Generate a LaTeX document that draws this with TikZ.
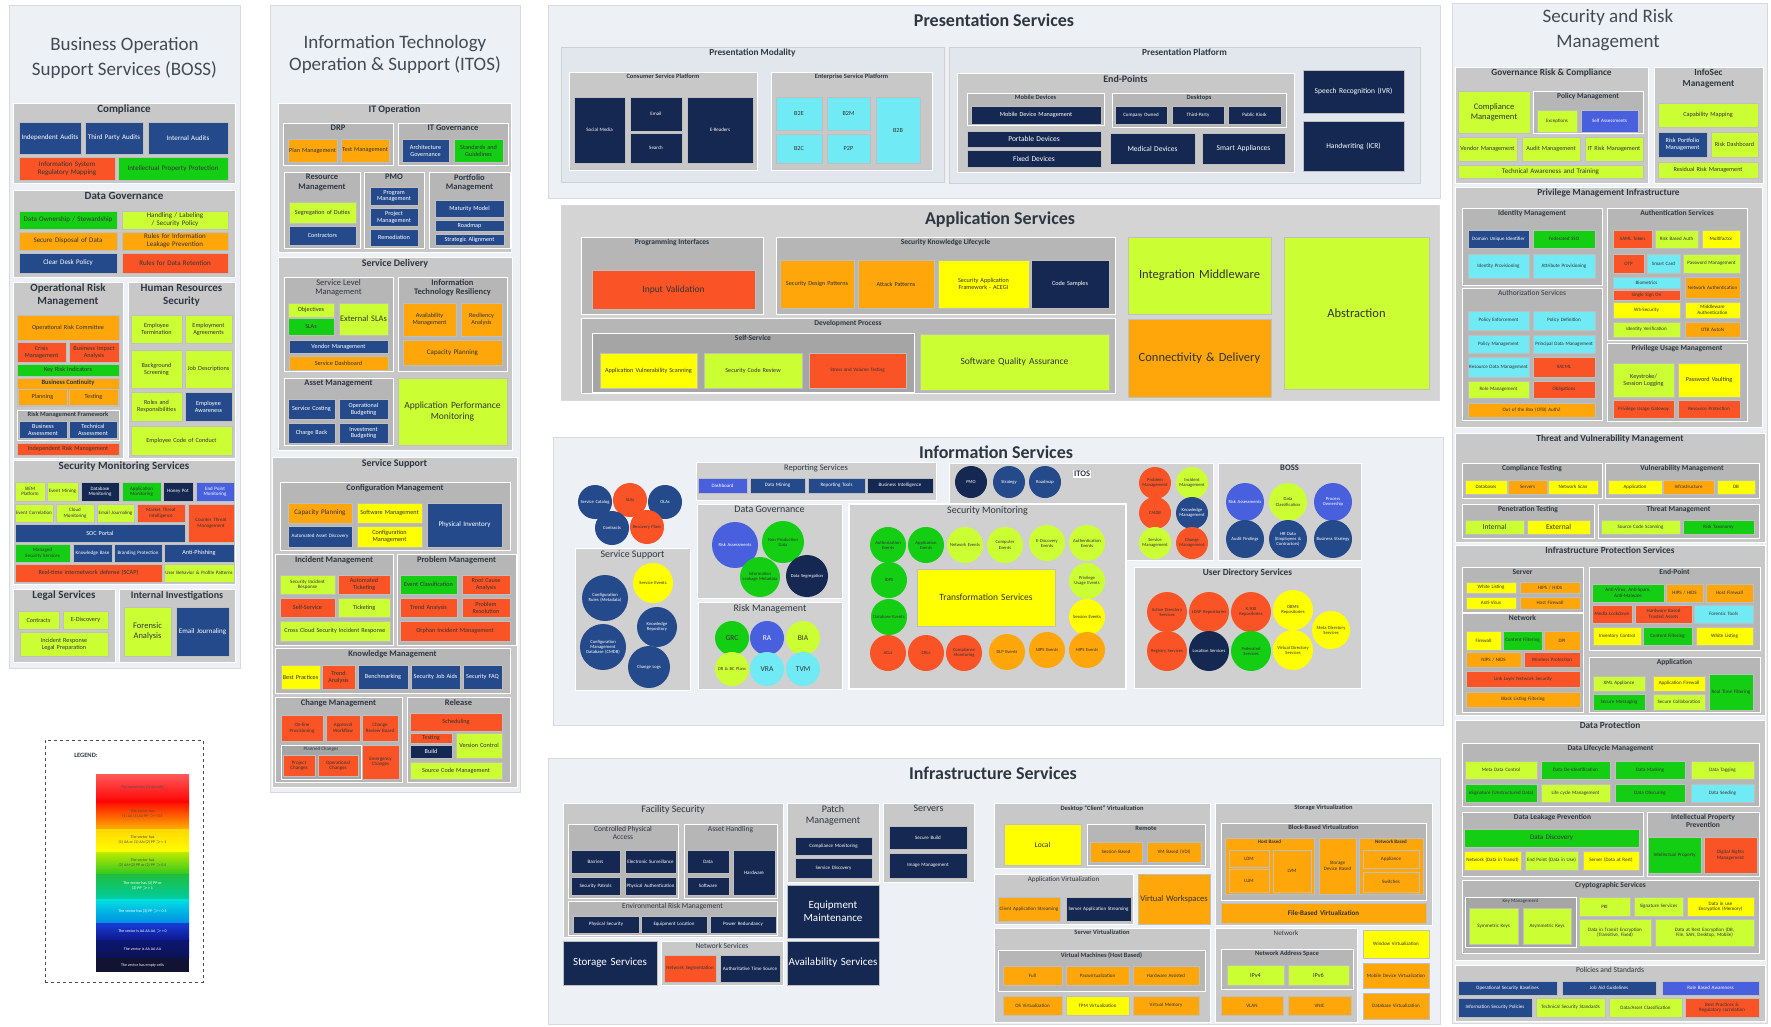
\documentclass[tikz,border=0pt]{standalone}
\usepackage{fontspec}
\setmainfont{Carlito}
\definecolor{cnavy}{RGB}{20,40,82}
\definecolor{cblue}{RGB}{36,74,140}
\definecolor{cbright}{RGB}{72,96,222}
\definecolor{cred}{RGB}{250,84,38}
\definecolor{corange}{RGB}{255,166,10}
\definecolor{cyellow}{RGB}{255,255,0}
\definecolor{clime}{RGB}{204,255,51}
\definecolor{cgreen}{RGB}{20,206,20}
\definecolor{ccyan}{RGB}{112,234,245}
\definecolor{pg}{RGB}{200,200,200}
\definecolor{pgb}{RGB}{182,182,182}
\definecolor{pgc}{RGB}{165,165,165}
\definecolor{pgi}{RGB}{208,208,208}
\definecolor{pgl}{RGB}{226,231,238}
\definecolor{outc}{RGB}{237,240,244}
\definecolor{appc}{RGB}{212,212,212}
\definecolor{ttlc}{RGB}{45,55,66}
\definecolor{lgdark}{RGB}{18,18,50}
\newcounter{bxn}
\newcommand\bx[6]{\stepcounter{bxn}%
 \pgfmathsetmacro\bxw{#3-#1}\pgfmathsetmacro\bxh{#4-#2}\pgfmathsetmacro\bxtw{max(#3-#1-2,1)}%
 \node[box,#5,minimum width=\bxw pt,minimum height=\bxh pt,text width=\bxtw pt] (b\thebxn) at ({(#1+#3)/2},{(#2+#4)/2}) {#6};}
\newcommand\pn[7]{\stepcounter{bxn}%
 \pgfmathsetmacro\bxw{#3-#1}\pgfmathsetmacro\bxh{#4-#2}%
 \node[pnl,#5,minimum width=\bxw pt,minimum height=\bxh pt] (p\thebxn) at ({(#1+#3)/2},{(#2+#4)/2}) {};
 \node[ttl,#6,anchor=north] (t\thebxn) at ({(#1+#3)/2},{#2+1}) {#7};}
\newcommand\cc[5]{\stepcounter{bxn}%
 \pgfmathsetmacro\bxw{2*#3}\pgfmathsetmacro\bxtw{1.75*#3}%
 \node[circ,#4,minimum size=\bxw pt,text width=\bxtw pt] (c\thebxn) at (#1,#2) {#5};}
\begin{document}
\hyphenpenalty=10000 \exhyphenpenalty=10000
\begin{tikzpicture}[x=1pt,y=-1pt,
 box/.style={draw=black!25,line width=0.3pt,inner sep=0.5pt,outer sep=0pt,align=center,font=\fontsize{6.2}{6.8}\selectfont,text=black!80},
 circ/.style={circle,inner sep=0pt,outer sep=0pt,align=center,font=\fontsize{4.6}{5.1}\selectfont,text=black!80},
 pnl/.style={fill=pg,draw=white,line width=0.7pt,inner sep=0pt,outer sep=0pt},
 pnl2/.style={fill=pgb},
 pnl3/.style={fill=pgc},
 pnlI/.style={fill=pgi},
 pnlL/.style={fill=pgl,draw=black!18},
 outerp/.style={fill=outc,draw=black!15,line width=0.5pt},
 appouter/.style={fill=appc,draw=black!15,line width=0.5pt},
 legbox/.style={fill=white,draw=black!70,dashed,line width=0.9pt},
 ttl/.style={inner sep=1pt,align=center,text=ttlc,font=\fontsize{9}{10}\selectfont\bfseries},
 t11/.style={font=\fontsize{11}{13}\selectfont\bfseries},
 t10/.style={font=\fontsize{10}{11.5}\selectfont\bfseries},
 t9/.style={font=\fontsize{9.3}{10.5}\selectfont\bfseries},
 t9n/.style={font=\fontsize{10}{11.5}\selectfont},
 t8/.style={font=\fontsize{8.5}{9.6}\selectfont\bfseries},
 t8n/.style={font=\fontsize{8.5}{9.5}\selectfont},
 t7/.style={font=\fontsize{7.5}{8.5}\selectfont\bfseries},
 t7n/.style={font=\fontsize{7.5}{8.5}\selectfont},
 t6/.style={font=\fontsize{6.5}{7.3}\selectfont\bfseries},
 t6n/.style={font=\fontsize{7}{8}\selectfont},
 t5/.style={font=\fontsize{5}{5.6}\selectfont},
 t4/.style={font=\fontsize{5}{5.6}\selectfont\bfseries},
 f4/.style={font=\fontsize{5}{5.6}\selectfont},
 f5/.style={font=\fontsize{6.2}{6.8}\selectfont},
 f6/.style={font=\fontsize{7}{7.8}\selectfont},
 f6b/.style={font=\fontsize{7}{7.8}\selectfont\bfseries},
 f7/.style={font=\fontsize{7.5}{8.5}\selectfont},
 f8/.style={font=\fontsize{8.5}{9.8}\selectfont},
 f9/.style={font=\fontsize{9.5}{11}\selectfont},
 f11/.style={font=\fontsize{11}{13}\selectfont},
 f12/.style={font=\fontsize{12.5}{15}\selectfont},
 bigt/.style={font=\fontsize{19}{24.5}\selectfont,text=ttlc!90,align=center,inner sep=0pt},
 bigb/.style={font=\fontsize{18}{21}\selectfont\bfseries,text=ttlc,inner sep=0pt},
 cnv/.style={fill=cnavy,text=white},
 cbl/.style={fill=cblue,text=white},
 cbb/.style={fill=cbright,text=white},
 crd/.style={fill=cred},
 cor/.style={fill=corange},
 cye/.style={fill=cyellow},
 clm/.style={fill=clime},
 cgn/.style={fill=cgreen},
 ccy/.style={fill=ccyan},
 legt/.style={font=\fontsize{4}{4.6}\selectfont,align=center,inner sep=0pt}
]
\useasboundingbox (0,0) rectangle (1771,1026);
\fill[white] (0,0) rectangle (1771,1026);

%================ BOSS =================
\bx{9}{5}{240}{668}{outerp}{}
\node[bigt] (tboss) at (124.5,58) {Business Operation\\Support Services (BOSS)};
\pn{13}{103}{235}{183}{}{t11}{Compliance}
\bx{19}{122}{81}{154}{cbl,f6}{Independent Audits}
\bx{85}{122}{143}{154}{cbl,f6}{Third Party Audits}
\bx{148}{122}{228}{154}{cbl,f6}{Internal Audits}
\bx{19}{157}{115}{180}{crd,f6}{Information System Regulatory Mapping}
\bx{118}{157}{228}{180}{cgn,f6}{Intellectual Property Protection}
\pn{13}{190}{235}{277}{}{t11}{Data Governance}
\bx{19}{211}{117}{229}{cgn,f6}{Data Ownership / Stewardship}
\bx{122}{211}{228}{229}{clm,f6}{Handling / Labeling / Security Policy}
\bx{19}{232}{117}{250}{cor,f6}{Secure Disposal of Data}
\bx{122}{232}{228}{250}{cor,f6}{Rules for Information Leakage Prevention}
\bx{19}{253}{117}{273}{cbl,f6}{Clear Desk Policy}
\bx{122}{253}{228}{273}{crd,f6}{Rules for Data Retention}
\pn{13}{282}{123}{458}{}{t11}{Operational Risk\\Management}
\bx{17}{315}{119}{340}{cor}{Operational Risk Committee}
\bx{17}{342}{66}{362}{crd}{Crisis Management}
\bx{69}{342}{119}{362}{crd}{Business Impact Analysis}
\bx{17}{364}{119}{376}{cgn}{Key Risk Indicators}
\pn{17}{378}{119}{406}{cor,draw=black!25,line width=0.3pt}{t6}{Business Continuity}
\bx{18}{389}{67}{405}{cor}{Planning}
\bx{69}{389}{118}{405}{cor}{Testing}
\pn{17}{410}{119}{440}{pnl2}{t6}{Risk Management Framework}
\bx{19}{421}{67}{438}{cbl}{Business Assessment}
\bx{69}{421}{117}{438}{cbl}{Technical Assessment}
\bx{17}{443}{119}{455}{crd}{Independent Risk Management}
\pn{128}{282}{235}{458}{}{t11}{Human Resources\\Security}
\bx{131}{315}{182}{343}{clm}{Employee Termination}
\bx{185}{315}{232}{343}{clm}{Employment Agreements}
\bx{131}{350}{182}{388}{clm}{Background Screening}
\bx{185}{350}{232}{388}{clm}{Job Descriptions}
\bx{131}{392}{182}{421}{clm}{Roles and Responsibilities}
\bx{185}{392}{232}{421}{cbl}{Employee Awareness}
\bx{131}{426}{232}{455}{clm}{Employee Code of Conduct}
\pn{13}{460}{235}{584}{}{t11}{Security Monitoring Services}
\bx{15}{482}{45}{501}{clm,f4}{SIEM Platform}
\bx{47}{482}{78}{501}{clm,f4}{Event Mining}
\bx{81}{482}{119}{501}{cnv,f4}{Database Monitoring}
\bx{122}{482}{161}{501}{cgn,f4}{Application Monitoring}
\bx{163}{482}{193}{501}{cnv,f4}{Honey Pot}
\bx{196}{482}{234}{501}{cbb,f4}{End Point Monitoring}
\bx{15}{504}{53}{522}{clm,f4}{Event Correlation}
\bx{56}{504}{94}{522}{clm,f4}{Cloud Monitoring}
\bx{97}{504}{134}{522}{clm,f4}{Email Journaling}
\bx{137}{504}{185}{522}{crd,f4}{Market Threat Intelligence}
\bx{188}{504}{234}{542}{crd,f4}{Counter Threat Management}
\bx{15}{524}{185}{542}{cbl}{SOC Portal}
\bx{15}{544}{70}{562}{cgn,f4}{Managed Security Services}
\bx{73}{544}{112}{562}{cbl,f4}{Knowledge Base}
\bx{114}{544}{162}{562}{cbl,f4}{Branding Protection}
\bx{164}{544}{234}{562}{cbl}{Anti-Phishing}
\bx{15}{564}{162}{582}{crd}{Real-time internetwork defense (SCAP)}
\bx{164}{564}{234}{582}{clm,f4}{User Behavior \& Profile Patterns}
\pn{13}{589}{115}{662}{}{t11}{Legal Services}
\bx{18}{611}{59}{629}{clm}{Contracts}
\bx{63}{611}{108}{629}{clm}{E-Discovery}
\bx{20}{632}{108}{656}{clm}{Incident Response Legal Preparation}
\pn{119}{589}{235}{662}{}{t10}{Internal Investigations}
\bx{124}{607}{171}{656}{clm,f8}{Forensic Analysis}
\bx{176}{607}{229}{656}{cbl,f6}{Email Journaling}

% legend
\bx{45}{740}{203}{982}{legbox}{}
\node[font=\fontsize{6.5}{7}\selectfont\bfseries,text=ttlc] (legtitle) at (86,755) {LEGEND:};
\shade[top color={rgb,255:red,255;green,90;blue,90},bottom color={rgb,255:red,255;green,0;blue,0}] (96,774) rectangle (189,803);
\shade[top color={rgb,255:red,255;green,20;blue,0},bottom color={rgb,255:red,255;green,175;blue,0}] (96,803) rectangle (189,829);
\shade[top color={rgb,255:red,255;green,215;blue,0},bottom color={rgb,255:red,255;green,255;blue,0}] (96,829) rectangle (189,852);
\shade[top color={rgb,255:red,190;green,235;blue,0},bottom color={rgb,255:red,50;green,200;blue,30}] (96,852) rectangle (189,874);
\shade[top color={rgb,255:red,30;green,190;blue,60},bottom color={rgb,255:red,0;green,205;blue,160}] (96,874) rectangle (189,899);
\shade[top color={rgb,255:red,0;green,225;blue,225},bottom color={rgb,255:red,0;green,140;blue,230}] (96,899) rectangle (189,923);
\shade[top color={rgb,255:red,25;green,60;blue,215},bottom color={rgb,255:red,12;green,25;blue,140}] (96,923) rectangle (189,940);
\shade[top color={rgb,255:red,12;green,22;blue,115},bottom color={rgb,255:red,12;green,18;blue,85}] (96,940) rectangle (189,958);
\fill[fill=lgdark] (96,958) rectangle (189,972);
\node[legt,text=black!70] (lg1) at (142.5,787) {The vector has (1) AA cells};
\node[legt,text=black!70] (lg2) at (142.5,814) {The vector has\\(1) AA (1) AA PP $>$= 0.5};
\node[legt,text=black!70] (lg3) at (142.5,840) {The vector has\\(1) AA or (1) AA/(2) PP $>$= 1};
\node[legt,text=black!70] (lg4) at (142.5,863) {The vector has\\(2) AA+(2) PP or (2) PP $>$0.5};
\node[legt,text=white] (lg5) at (142.5,886) {The vector has (2) PP or\\(2) PP $>$= 1};
\node[legt,text=white] (lg6) at (142.5,911) {The vector has (3) PP $>$= 0.5};
\node[legt,text=white] (lg7) at (142.5,931) {The vector is AA AA AA $>$= 0};
\node[legt,text=white] (lg8) at (142.5,949) {The vector is AA AA AA};
\node[legt,text=white] (lg9) at (142.5,965) {The vector has empty cells};

%================ ITOS =================
\bx{270}{5}{520}{792}{outerp}{}
\node[bigt,font=\fontsize{19}{22}\selectfont] (titos) at (395,54) {Information Technology\\Operation \& Support (ITOS)};
\pn{278}{103}{511}{252}{}{t10}{IT Operation}
\pn{283}{123}{393}{165}{pnl2}{t8}{DRP}
\bx{288}{139}{337}{162}{cor}{Plan Management}
\bx{341}{139}{389}{162}{cor}{Test Management}
\pn{398}{123}{508}{165}{pnl2}{t8}{IT Governance}
\bx{402}{139}{449}{162}{cbl}{Architecture Governance}
\bx{454}{139}{503}{162}{cgn}{Standards and Guidelines}
\pn{284}{172}{360}{248}{pnl2}{t8}{Resource\\Management}
\bx{289}{202}{356}{223}{clm}{Segregation of Duties}
\bx{289}{226}{356}{245}{cbl}{Contractors}
\pn{364}{172}{424}{248}{pnl2}{t8}{PMO}
\bx{370}{187}{418}{205}{cbl}{Program Management}
\bx{370}{208}{418}{226}{cbl}{Project Management}
\bx{370}{229}{418}{246}{cbl}{Remediation}
\pn{429}{172}{510}{248}{pnl2}{t8}{Portfolio\\Management}
\bx{435}{200}{504}{217}{cbl}{Maturity Model}
\bx{435}{220}{504}{231}{cbl}{Roadmap}
\bx{435}{234}{504}{245}{cbl}{Strategic Alignment}
\pn{278}{257}{512}{450}{}{t10}{Service Delivery}
\pn{284}{277}{393}{371}{pnl2}{t8n}{Service Level\\Management}
\bx{288}{303}{334}{317}{clm}{Objectives}
\bx{288}{318}{334}{335}{cgn}{SLAs}
\bx{339}{303}{388}{335}{clm,f8}{External SLAs}
\bx{289}{340}{388}{353}{cbl}{Vendor Management}
\bx{289}{356}{388}{370}{cor}{Service Dashboard}
\pn{398}{277}{507}{371}{pnl2}{t8}{Information\\Technology Resiliency}
\bx{403}{303}{456}{336}{cor}{Availability Management}
\bx{461}{303}{502}{336}{cor}{Resiliency Analysis}
\bx{403}{340}{502}{365}{cor,f6}{Capacity Planning}
\pn{284}{378}{393}{445}{pnl2}{t8}{Asset Management}
\bx{288}{399}{335}{419}{cbl}{Service Costing}
\bx{339}{399}{388}{419}{cbl}{Operational Budgeting}
\bx{288}{423}{335}{443}{cbl}{Charge Back}
\bx{339}{423}{388}{443}{cbl}{Investment Budgeting}
\bx{398}{378}{507}{445}{clm,f9}{Application Performance Monitoring}
\pn{272}{457}{517}{787}{}{t10}{Service Support}
\pn{280}{482}{510}{550}{pnl2}{t8}{Configuration Management}
\bx{288}{503}{352}{523}{cor,f6}{Capacity Planning}
\bx{357}{503}{422}{523}{cye}{Software Management}
\bx{288}{526}{352}{547}{cbl,f4}{Automated Asset Discovery}
\bx{357}{526}{422}{547}{cye}{Configuration Management}
\bx{427}{503}{502}{547}{cbl,f6}{Physical Inventory}
\pn{275}{554}{393}{645}{pnl2}{t8}{Incident Management}
\bx{280}{575}{335}{594}{clm,f4}{Security Incident Response}
\bx{338}{575}{390}{594}{crd}{Automated Ticketing}
\bx{280}{598}{335}{617}{crd}{Self-Service}
\bx{338}{598}{390}{617}{clm}{Ticketing}
\bx{280}{621}{390}{641}{clm}{Cross Cloud Security Incident Response}
\pn{397}{554}{516}{645}{pnl2}{t8}{Problem Management}
\bx{400}{575}{457}{594}{cgn}{Event Classification}
\bx{462}{575}{510}{594}{crd}{Root Cause Analysis}
\bx{400}{598}{457}{617}{crd}{Trend Analysis}
\bx{462}{598}{510}{617}{crd}{Problem Resolution}
\bx{400}{621}{510}{641}{crd}{Orphan Incident Management}
\pn{275}{648}{510}{693}{pnl2}{t8}{Knowledge Management}
\bx{281}{665}{320}{689}{cye}{Best Practices}
\bx{322}{665}{355}{689}{crd}{Trend Analysis}
\bx{358}{665}{408}{689}{cbl}{Benchmarking}
\bx{411}{665}{460}{689}{cbl}{Security Job Aids}
\bx{463}{665}{502}{689}{cbl}{Security FAQ}
\pn{275}{697}{402}{782}{pnl2}{t8}{Change Management}
\bx{281}{715}{323}{741}{crd,f4}{On-line Provisioning}
\bx{326}{715}{360}{741}{crd,f4}{Approval Workflow}
\bx{362}{715}{398}{741}{crd,f4}{Change Review Board}
\pn{281}{745}{361}{779}{pnl3}{t5}{Planned Changes}
\bx{283}{755}{315}{776}{crd,f4}{Project Changes}
\bx{318}{755}{358}{776}{crd,f4}{Operational Changes}
\bx{362}{745}{399}{779}{crd,f4}{Emergency Changes}
\pn{407}{697}{510}{782}{pnl2}{t8}{Release}
\bx{410}{713}{502}{731}{crd}{Scheduling}
\bx{410}{733}{452}{743}{crd}{Testing}
\bx{410}{745}{452}{758}{cnv}{Build}
\bx{456}{733}{502}{758}{clm}{Version Control}
\bx{410}{762}{502}{779}{clm}{Source Code Management}

%================ Presentation =================
\bx{548}{5}{1440}{198}{outerp}{}
\node[bigb] (tpres) at (994,20) {Presentation Services};
\pn{561}{47}{944}{182}{pnlL}{t9}{Presentation Modality}
\pn{569}{72}{757}{170}{}{t6}{Consumer Service Platform}
\bx{574}{97}{625}{163}{cnv,f4}{Social Media}
\bx{630}{97}{682}{131}{cnv,f4}{Email}
\bx{630}{133}{682}{163}{cnv,f4}{Search}
\bx{687}{97}{753}{163}{cnv,f4}{E-Readers}
\pn{771}{72}{932}{170}{}{t6}{Enterprise Service Platform}
\bx{776}{97}{822}{130}{ccy}{B2E}
\bx{827}{97}{870}{130}{ccy}{B2M}
\bx{776}{134}{822}{163}{ccy}{B2C}
\bx{827}{134}{870}{163}{ccy}{P2P}
\bx{876}{97}{920}{163}{ccy}{B2B}
\pn{949}{47}{1420}{183}{pnlL}{t9}{Presentation Platform}
\pn{957}{73}{1294}{172}{}{t10}{End-Points}
\pn{967}{93}{1104}{125}{pnl2}{t6}{Mobile Devices}
\bx{971}{106}{1101}{124}{cnv,f5}{Mobile Device Management}
\pn{1112}{93}{1286}{127}{pnl2}{t6}{Desktops}
\bx{1115}{106}{1167}{124}{cnv,f4}{Company Owned}
\bx{1172}{106}{1224}{124}{cnv,f4}{Third-Party}
\bx{1228}{106}{1281}{124}{cnv,f4}{Public Kiosk}
\bx{967}{131}{1101}{147}{cnv,f7}{Portable Devices}
\bx{967}{150}{1101}{167}{cnv,f7}{Fixed Devices}
\bx{1110}{133}{1195}{164}{cnv,f7}{Medical Devices}
\bx{1202}{133}{1285}{164}{cnv,f7}{Smart Appliances}
\bx{1303}{70}{1404}{113}{cnv,f7}{Speech Recognition (IVR)}
\bx{1303}{121}{1404}{171}{cnv,f7}{Handwriting (ICR)}

%================ Application =================
\bx{561}{205}{1439}{400}{appouter}{}
\node[bigb] (tapp) at (1000,220) {Application Services};
\pn{581}{237}{763}{314}{pnl2}{t7}{Programming Interfaces}
\bx{592}{270}{755}{309}{crd,f9}{Input Validation}
\pn{776}{237}{1115}{314}{pnl2}{t7}{Security Knowledge Lifecycle}
\bx{780}{260}{854}{308}{cor,f5}{Security Design Patterns}
\bx{858}{260}{934}{308}{cor,f5}{Attack Patterns}
\bx{938}{260}{1029}{308}{cye,f5}{Security Application Framework - ACEGI}
\bx{1031}{260}{1109}{308}{cnv,f5}{Code Samples}
\pn{581}{318}{1115}{393}{pnl2}{t7}{Development Process}
\pn{592}{333}{914}{392}{pnl3}{t7}{Self-Service}
\bx{600}{353}{697}{388}{cye,f5}{Application Vulnerability Scanning}
\bx{704}{353}{802}{388}{clm,f5}{Security Code Review}
\bx{809}{353}{906}{388}{crd,f4}{Stress and Volume Testing}
\bx{920}{334}{1109}{390}{clm,f9}{Software Quality Assurance}
\bx{1128}{237}{1271}{314}{clm,f12}{Integration Middleware}
\bx{1128}{319}{1271}{397}{cor,f12}{Connectivity \& Delivery}
\bx{1284}{237}{1429}{389}{clm,f12}{Abstraction}

%================ Information =================
\bx{553}{437}{1443}{725}{outerp}{}
\node[bigb] (tinfo) at (996,452) {Information Services};
\cc{595}{502}{17}{cbl}{Service Catalog}
\cc{630}{500}{17}{crd}{SLAs}
\cc{665}{502}{17}{cbl}{OLAs}
\cc{612}{528}{17}{cbl}{Contracts}
\cc{647}{527}{17}{crd}{Recovery Plans}
\pn{575}{548}{690}{690}{pnlI}{t9n}{Service Support}
\cc{605}{598}{23}{cbl}{Configuration Rules (Metadata)}
\cc{653}{583}{20}{cye}{Service Events}
\cc{657}{627}{20}{cbl}{Knowledge Repository}
\cc{603}{647}{23}{cbl}{Configuration Management Database (CMDB)}
\cc{649}{667}{21}{cbl}{Change Logs}
\pn{696}{462}{936}{500}{pnlI}{t8n}{Reporting Services}
\bx{698}{478}{747}{493}{cbb,f4}{Dashboard}
\bx{750}{478}{805}{493}{cbl,f4}{Data Mining}
\bx{808}{478}{865}{493}{cbl,f4}{Reporting Tools}
\bx{867}{478}{933}{493}{cnv,f4}{Business Intelligence}
\pn{697}{504}{842}{598}{pnlI}{t9n}{Data Governance}
\cc{735}{545}{23}{cbb}{Risk Assessments}
\cc{783}{542}{21}{cgn}{Non Production Data}
\cc{760}{577}{20}{cgn}{Information Leakage Metadata}
\cc{807}{576}{21}{cnv}{Data Segregation}
\pn{698}{602}{842}{689}{pnlI}{t9n}{Risk Management}
\cc{732}{638}{17}{cgn,f7}{GRC}
\cc{767}{638}{17}{cbb,f7}{RA}
\cc{803}{638}{17}{clm,f7}{BIA}
\cc{732}{669}{17}{clm}{DR \& BC Plans}
\cc{767}{669}{17}{ccy,f7}{VRA}
\cc{803}{669}{17}{ccy,f7}{TVM}
\bx{949}{463}{1213}{560}{pnlI,draw=white,line width=0.7pt}{}
\node[fill=white,inner sep=1pt,font=\fontsize{8.5}{9}\selectfont\bfseries,text=ttlc] (titos2) at (1082,474) {ITOS};
\cc{971}{482}{16}{cnv}{PMO}
\cc{1009}{482}{16}{cbl}{Strategy}
\cc{1045}{482}{16}{cbl}{Roadmap}
\cc{1155}{483}{16}{crd}{Problem Management}
\cc{1192}{483}{16}{clm}{Incident Management}
\cc{1155}{513}{16}{crd}{CMDB}
\cc{1192}{513}{16}{cbl}{Knowledge Management}
\cc{1155}{543}{16}{clm}{Service Management}
\cc{1192}{543}{16}{crd}{Change Management}
\pn{849}{504}{1126}{689}{pnlI,line width=1.6pt}{t9n}{Security Monitoring}
\bx{917}{569}{1055}{626}{cye,f9}{Transformation Services}
\cc{888}{545}{18}{cgn}{Authorization Events}
\cc{926}{545}{18}{cgn}{Application Events}
\cc{965}{545}{18}{clm}{Network Events}
\cc{1005}{545}{18}{clm}{Computer Events}
\cc{1047}{543}{18}{clm}{E-Discovery Events}
\cc{1087}{543}{18}{clm}{Authentication Events}
\cc{889}{580}{18}{cgn}{IDPS}
\cc{1087}{581}{18}{clm}{Privilege Usage Events}
\cc{889}{617}{18}{cgn}{Database Events}
\cc{1087}{617}{18}{cye}{Session Events}
\cc{888}{653}{18}{crd}{ACLs}
\cc{926}{653}{18}{crd}{CRLs}
\cc{964}{653}{18}{crd}{Compliance Monitoring}
\cc{1007}{652}{18}{cor}{DLP Events}
\cc{1047}{650}{18}{cor}{NIPS Events}
\cc{1087}{650}{18}{cor}{HIPS Events}
\pn{1218}{463}{1361}{560}{pnlI}{t8}{BOSS}
\cc{1245}{502}{19}{cbb}{Risk Assessments}
\cc{1288}{502}{19}{clm}{Data Classification}
\cc{1333}{502}{19}{cbb}{Process Ownership}
\cc{1245}{539}{19}{cbl}{Audit Findings}
\cc{1288}{539}{19}{cbl}{HR Data (Employees \& Contractors)}
\cc{1333}{539}{19}{cbl}{Business Strategy}
\pn{1134}{567}{1361}{688}{pnlI}{t9}{User Directory Services}
\cc{1167}{612}{20}{crd}{Active Directory Services}
\cc{1209}{612}{20}{crd}{LDAP Repositories}
\cc{1251}{612}{20}{crd}{X.500 Repositories}
\cc{1293}{610}{20}{cye}{DBMS Repositories}
\cc{1331}{630}{19}{cye}{Meta Directory Services}
\cc{1167}{651}{20}{crd}{Registry Services}
\cc{1209}{651}{20}{cnv}{Location Services}
\cc{1251}{651}{20}{cgn}{Federated Services}
\cc{1293}{650}{20}{cye}{Virtual Directory Services}

%================ Infrastructure =================
\bx{548}{758}{1440}{1024}{outerp}{}
\node[bigb] (tinfra) at (993,773) {Infrastructure Services};
\pn{563}{803}{783}{937}{}{t9n}{Facility Security}
\pn{568}{824}{678}{898}{pnl2}{t7n}{Controlled Physical\\Access}
\bx{571}{850}{620}{873}{cnv,f4}{Barriers}
\bx{625}{850}{676}{873}{cnv,f4}{Electronic Surveillance}
\bx{571}{877}{620}{895}{cnv,f4}{Security Patrols}
\bx{625}{877}{676}{895}{cnv,f4}{Physical Authentication}
\pn{684}{824}{777}{898}{pnl2}{t7n}{Asset Handling}
\bx{687}{850}{729}{873}{cnv,f4}{Data}
\bx{687}{877}{729}{895}{cnv,f4}{Software}
\bx{733}{850}{775}{895}{cnv,f4}{Hardware}
\pn{568}{901}{777}{935}{pnl2}{t7n}{Environmental Risk Management}
\bx{573}{916}{639}{933}{cnv,f4}{Physical Security}
\bx{641}{916}{707}{933}{cnv,f4}{Equipment Location}
\bx{710}{916}{776}{933}{cnv,f4}{Power Redundancy}
\bx{563}{941}{657}{985}{cnv,f11}{Storage Services}
\pn{661}{941}{783}{985}{}{t7n}{Network Services}
\bx{664}{955}{716}{982}{crd,f4}{Network Segmentation}
\bx{720}{955}{780}{982}{cnv,f4}{Authoritative Time Source}
\pn{787}{803}{879}{882}{}{t9n}{Patch\\Management}
\bx{795}{837}{872}{855}{cnv,f4}{Compliance Monitoring}
\bx{795}{858}{872}{878}{cnv,f4}{Service Discovery}
\bx{787}{885}{879}{938}{cnv,f11}{Equipment Maintenance}
\bx{787}{941}{879}{985}{cnv,f11}{Availability Services}
\pn{883}{803}{974}{882}{}{t9n}{Servers}
\bx{889}{826}{967}{849}{cnv,f4}{Secure Build}
\bx{889}{853}{967}{878}{cnv,f4}{Image Management}
\pn{994}{803}{1210}{868}{}{t6}{Desktop ``Client'' Virtualization}
\bx{1004}{824}{1081}{865}{cye,f7}{Local}
\pn{1087}{824}{1205}{865}{pnl2}{t6}{Remote}
\bx{1090}{842}{1142}{862}{cor,f4}{Session Based}
\bx{1147}{842}{1201}{862}{cor,f4}{VM Based (VDI)}
\pn{994}{874}{1133}{924}{}{t6n}{Application Virtualization}
\bx{998}{897}{1060}{921}{cor,f4}{Client Application Streaming}
\bx{1066}{897}{1131}{921}{cnv,f4}{Server Application Streaming}
\bx{1138}{874}{1210}{924}{cor,f8}{Virtual Workspaces}
\pn{994}{928}{1210}{1022}{}{t6}{Server Virtualization}
\pn{998}{950}{1205}{991}{pnl2}{t6}{Virtual Machines (Host Based)}
\bx{1003}{966}{1062}{985}{cor,f4}{Full}
\bx{1066}{966}{1129}{985}{cor,f4}{Paravirtualization}
\bx{1133}{966}{1199}{985}{cor,f4}{Hardware Assisted}
\bx{1003}{996}{1062}{1015}{cor,f4}{OS Virtualization}
\bx{1066}{996}{1129}{1015}{cye,f4}{TPM Virtualization}
\bx{1133}{996}{1199}{1015}{cor,f4}{Virtual Memory}
\pn{1215}{803}{1432}{925}{}{t6}{Storage Virtualization}
\pn{1221}{823}{1426}{900}{pnl2}{t6}{Block-Based Virtualization}
\pn{1225}{838}{1314}{894}{cor,draw=black!25,line width=0.3pt}{t4}{Host Based}
\bx{1229}{850}{1269}{867}{cor,f4}{LDM}
\bx{1229}{869}{1269}{892}{cor,f4}{LUM}
\bx{1273}{850}{1311}{892}{cor,f4}{LVM}
\bx{1319}{838}{1356}{894}{cor,f4}{Storage Device Based}
\pn{1359}{838}{1423}{894}{cor,draw=black!25,line width=0.3pt}{t4}{Network Based}
\bx{1363}{850}{1419}{868}{cor,f4}{Appliance}
\bx{1363}{872}{1419}{892}{cor,f4}{Switches}
\bx{1221}{903}{1426}{923}{cor,f6b}{File-Based Virtualization}
\pn{1215}{928}{1357}{1022}{}{t6n}{Network}
\pn{1221}{949}{1353}{989}{pnl2}{t6}{Network Address Space}
\bx{1227}{965}{1284}{985}{clm,f5}{IPv4}
\bx{1288}{965}{1349}{985}{clm,f5}{IPv6}
\bx{1221}{996}{1283}{1015}{cor,f4}{VLAN}
\bx{1288}{996}{1351}{1015}{cor,f4}{VNIC}
\bx{1363}{930}{1429}{958}{cye,f4}{Window Virtualization}
\bx{1363}{963}{1429}{988}{cor,f4}{Mobile Device Virtualization}
\bx{1363}{993}{1429}{1019}{cor,f4}{Database Virtualization}

%================ SRM =================
\bx{1452}{3}{1767}{1023}{outerp}{}
\node[bigt] (tsrm) at (1608,30) {Security and Risk\\Management};
\pn{1455}{67}{1648}{183}{}{t9}{Governance Risk \& Compliance}
\bx{1458}{91}{1530}{133}{clm,f8}{Compliance Management}
\pn{1533}{91}{1643}{133}{pnl2}{t7}{Policy Management}
\bx{1537}{110}{1577}{132}{clm,f4}{Exceptions}
\bx{1581}{110}{1638}{132}{cbb,f4}{Self Assessments}
\bx{1458}{137}{1517}{161}{clm,f5}{Vendor Management}
\bx{1522}{137}{1580}{161}{clm,f5}{Audit Management}
\bx{1585}{137}{1643}{161}{clm,f5}{IT Risk Management}
\bx{1458}{165}{1643}{178}{clm,f6}{Technical Awareness and Training}
\pn{1654}{67}{1763}{183}{}{t9}{InfoSec\\Management}
\bx{1658}{103}{1758}{127}{clm,f5}{Capability Mapping}
\bx{1658}{132}{1707}{157}{cbl,f5}{Risk Portfolio Management}
\bx{1711}{132}{1758}{157}{clm,f5}{Risk Dashboard}
\bx{1658}{162}{1758}{178}{clm,f5}{Residual Risk Management}
\pn{1455}{187}{1762}{427}{}{t9}{Privilege Management Infrastructure}
\pn{1462}{208}{1602}{285}{pnl2}{t7}{Identity Management}
\bx{1468}{230}{1529}{248}{cbl,f4}{Domain Unique Identifier}
\bx{1533}{230}{1595}{248}{cgn,f4}{Federated SSO}
\bx{1468}{254}{1529}{278}{ccy,f4}{Identity Provisioning}
\bx{1533}{254}{1595}{278}{ccy,f4}{Attribute Provisioning}
\pn{1462}{288}{1602}{420}{pnl2}{t7n}{Authorization Services}
\bx{1468}{311}{1529}{330}{ccy,f4}{Policy Enforcement}
\bx{1533}{311}{1595}{330}{ccy,f4}{Policy Definition}
\bx{1468}{335}{1529}{353}{ccy,f4}{Policy Management}
\bx{1533}{335}{1595}{353}{ccy,f4}{Principal Data Management}
\bx{1468}{357}{1529}{377}{ccy,f4}{Resource Data Management}
\bx{1533}{357}{1595}{377}{crd,f4}{XACML}
\bx{1468}{381}{1529}{398}{clm,f4}{Role Management}
\bx{1533}{381}{1595}{398}{crd,f4}{Obligations}
\bx{1468}{403}{1595}{417}{cor,f4}{Out of the Box (OTB) AuthZ}
\pn{1607}{208}{1747}{340}{pnl2}{t7}{Authentication Services}
\bx{1613}{230}{1652}{248}{crd,f4}{SAML Token}
\bx{1655}{230}{1698}{248}{clm,f4}{Risk Based Auth}
\bx{1702}{230}{1740}{248}{cye,f4}{Multifactor}
\bx{1613}{254}{1644}{273}{crd,f4}{OTP}
\bx{1647}{254}{1680}{273}{ccy,f4}{Smart Card}
\bx{1683}{254}{1740}{273}{clm,f4}{Password Management}
\bx{1613}{277}{1680}{288}{ccy,f4}{Biometrics}
\bx{1613}{290}{1680}{300}{crd,f4}{Single Sign On}
\bx{1685}{277}{1740}{298}{cor,f4}{Network Authentication}
\bx{1613}{302}{1680}{318}{cye,f4}{WS-Security}
\bx{1685}{302}{1740}{318}{cye,f4}{Middleware Authentication}
\bx{1613}{322}{1680}{337}{clm,f4}{Identity Verification}
\bx{1685}{322}{1740}{337}{cor,f4}{OTB AutoN}
\pn{1607}{343}{1747}{421}{pnl2}{t7}{Privilege Usage Management}
\bx{1613}{363}{1674}{397}{clm,f5}{Keystroke/ Session Logging}
\bx{1678}{363}{1740}{397}{cye,f5}{Password Vaulting}
\bx{1613}{400}{1674}{418}{crd,f4}{Privilege Usage Gateway}
\bx{1678}{400}{1740}{418}{crd,f4}{Resource Protection}
\pn{1455}{433}{1765}{542}{}{t9}{Threat and Vulnerability Management}
\pn{1462}{463}{1602}{498}{pnl2}{t7}{Compliance Testing}
\bx{1465}{480}{1507}{494}{cye,f4}{Databases}
\bx{1508}{480}{1547}{494}{cor,f4}{Servers}
\bx{1548}{480}{1598}{494}{cye,f4}{Network Scan}
\pn{1605}{463}{1759}{498}{pnl2}{t7}{Vulnerability Management}
\bx{1608}{480}{1662}{494}{cye,f4}{Application}
\bx{1663}{480}{1714}{494}{cor,f4}{Infrastructure}
\bx{1717}{480}{1755}{494}{cye,f4}{DB}
\pn{1462}{504}{1594}{538}{pnl2}{t7}{Penetration Testing}
\bx{1465}{520}{1524}{534}{clm,f7}{Internal}
\bx{1527}{520}{1590}{534}{cye,f7}{External}
\pn{1598}{504}{1759}{538}{pnl2}{t7}{Threat Management}
\bx{1601}{520}{1680}{534}{clm,f4}{Source Code Scanning}
\bx{1683}{520}{1754}{534}{cgn,f4}{Risk Taxonomy}
\pn{1455}{545}{1765}{715}{}{t9}{Infrastructure Protection Services}
\pn{1462}{567}{1583}{612}{pnl2}{t7}{Server}
\bx{1466}{582}{1516}{593}{cye,f4}{White Listing}
\bx{1520}{582}{1580}{593}{cor,f4}{HIPS / HIDS}
\bx{1466}{597}{1516}{609}{cye,f4}{Anti-Virus}
\bx{1520}{597}{1580}{609}{cor,f4}{Host Firewall}
\pn{1462}{613}{1583}{712}{pnl2}{t7}{Network}
\bx{1466}{631}{1501}{650}{cye,f4}{Firewall}
\bx{1503}{631}{1542}{650}{cgn,f4}{Content Filtering}
\bx{1544}{631}{1580}{650}{cor,f4}{DPI}
\bx{1466}{652}{1521}{667}{cor,f4}{NIPS / NIDS}
\bx{1524}{652}{1580}{667}{crd,f4}{Wireless Protection}
\bx{1466}{671}{1580}{687}{crd,f4}{Link Layer Network Security}
\bx{1466}{692}{1580}{707}{cor,f4}{Black Listing Filtering}
\pn{1589}{567}{1760}{650}{pnl2}{t7}{End-Point}
\bx{1592}{584}{1664}{602}{cgn,f4}{Anti-Virus, Anti-Spam, Anti-Malware}
\bx{1666}{584}{1703}{602}{cor,f4}{HIPS / HIDS}
\bx{1706}{584}{1753}{602}{cor,f4}{Host Firewall}
\bx{1592}{605}{1632}{623}{crd,f4}{Media Lockdown}
\bx{1635}{605}{1692}{623}{crd,f4}{Hardware Based Trusted Assets}
\bx{1694}{605}{1753}{623}{ccy,f4}{Forensic Tools}
\bx{1593}{627}{1641}{645}{cye,f4}{Inventory Control}
\bx{1643}{627}{1692}{645}{cgn,f4}{Content Filtering}
\bx{1696}{627}{1753}{645}{cye,f4}{White Listing}
\pn{1589}{657}{1760}{712}{pnl2}{t7}{Application}
\bx{1593}{676}{1645}{691}{clm,f4}{XML Appliance}
\bx{1653}{676}{1705}{691}{cye,f4}{Application Firewall}
\bx{1593}{694}{1645}{710}{cgn,f4}{Secure Messaging}
\bx{1653}{694}{1705}{710}{clm,f4}{Secure Collaboration}
\bx{1709}{674}{1753}{710}{cgn,f4}{Real Time Filtering}
\pn{1455}{720}{1765}{960}{}{t9}{Data Protection}
\pn{1462}{743}{1759}{806}{pnl2}{t7}{Data Lifecycle Management}
\bx{1465}{761}{1537}{779}{clm,f4}{Meta Data Control}
\bx{1541}{761}{1610}{779}{cgn,f4}{Data De-Identification}
\bx{1615}{761}{1685}{779}{cgn,f4}{Data Masking}
\bx{1691}{761}{1754}{779}{clm,f4}{Data Tagging}
\bx{1465}{784}{1537}{802}{cgn,f4}{eSignature (Unstructured Data)}
\bx{1541}{784}{1610}{802}{clm,f4}{Life cycle Management}
\bx{1615}{784}{1685}{802}{cgn,f4}{Data Obscuring}
\bx{1691}{784}{1754}{802}{ccy,f4}{Data Seeding}
\pn{1462}{812}{1643}{876}{pnl2}{t7}{Data Leakage Prevention}
\bx{1464}{829}{1639}{847}{cgn,f6}{Data Discovery}
\bx{1464}{851}{1521}{870}{cye,f4}{Network (Data in Transit)}
\bx{1525}{851}{1578}{870}{clm,f4}{End Point (Data in Use)}
\bx{1583}{851}{1639}{870}{cye,f4}{Server (Data at Rest)}
\pn{1647}{812}{1759}{876}{pnl2}{t7}{Intellectual Property\\Prevention}
\bx{1648}{837}{1701}{873}{cgn,f4}{Intellectual Property}
\bx{1704}{837}{1757}{873}{crd,f4}{Digital Rights Management}
\pn{1462}{880}{1759}{953}{pnl2}{t7}{Cryptographic Services}
\pn{1465}{897}{1576}{947}{pnl3}{t5}{Key Management}
\bx{1469}{908}{1518}{944}{clm,f4}{Symmetric Keys}
\bx{1523}{908}{1571}{944}{clm,f4}{Asymmetric Keys}
\bx{1579}{897}{1630}{916}{clm,f4}{PKI}
\bx{1634}{897}{1683}{916}{clm,f4}{Signature Services}
\bx{1687}{897}{1754}{916}{cye,f4}{Data in use Encryption (Memory)}
\bx{1579}{919}{1651}{946}{clm,f4}{Data in Transit Encryption (Transitive, Fixed)}
\bx{1655}{919}{1754}{946}{clm,f4}{Data at Rest Encryption (DB, File, SAN, Desktop, Mobile)}
\pn{1455}{965}{1765}{1021}{}{t7n}{Policies and Standards}
\bx{1458}{981}{1557}{995}{cbl,f4}{Operational Security Baselines}
\bx{1562}{981}{1656}{995}{cbl,f4}{Job Aid Guidelines}
\bx{1662}{981}{1759}{995}{cbb,f4}{Role Based Awareness}
\bx{1458}{998}{1532}{1017}{cbl,f4}{Information Security Policies}
\bx{1536}{998}{1605}{1017}{clm,f4}{Technical Security Standards}
\bx{1609}{998}{1682}{1017}{clm,f4}{Data/Asset Classification}
\bx{1685}{998}{1759}{1017}{crd,f4}{Best Practices \& Regulatory correlation}
\end{tikzpicture}
\end{document}
